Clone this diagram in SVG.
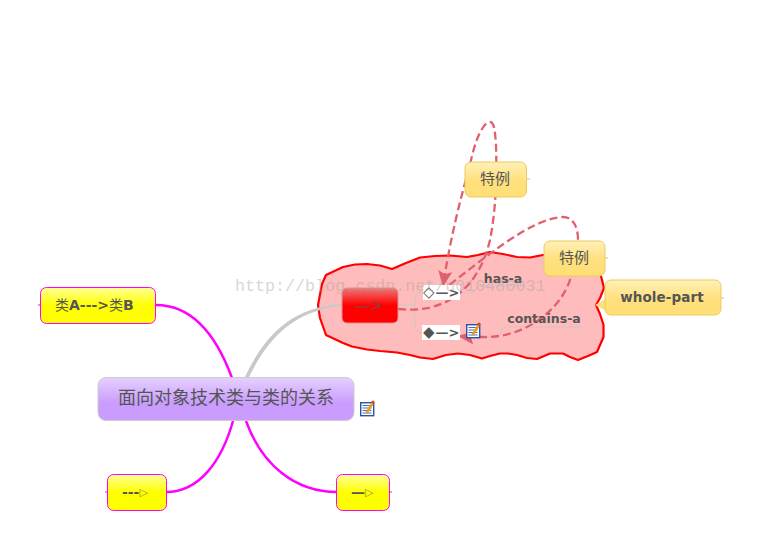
<svg xmlns="http://www.w3.org/2000/svg" width="761" height="548" viewBox="0 0 761 548">
<defs>
<linearGradient id="gY" x1="0" y1="0" x2="0" y2="1"><stop offset="0" stop-color="#ffff99"/><stop offset=".5" stop-color="#ffff00"/><stop offset="1" stop-color="#ffff00"/></linearGradient>
<linearGradient id="gO" x1="0" y1="0" x2="0" y2="1"><stop offset="0" stop-color="#fff0b8"/><stop offset=".55" stop-color="#ffe07c"/><stop offset="1" stop-color="#ffde75"/></linearGradient>
<linearGradient id="gP" x1="0" y1="0" x2="0" y2="1"><stop offset="0" stop-color="#e6d0ff"/><stop offset=".6" stop-color="#c99cfd"/><stop offset="1" stop-color="#c99cfd"/></linearGradient>
<linearGradient id="gR" x1="0" y1="0" x2="0" y2="1"><stop offset="0" stop-color="#ee7878"/><stop offset=".5" stop-color="#ff0000"/><stop offset="1" stop-color="#ff0000"/></linearGradient>
<marker id="ah" markerWidth="18" markerHeight="16" refX="15" refY="7" orient="auto" markerUnits="userSpaceOnUse"><path d="M0 0L16 7L0 14L3 7Z" fill="#e0606c"/></marker>
<g id="note"><rect x="0.700" y="2.700" width="13" height="13" fill="#fff" stroke="#2a52a8" stroke-width="1.400"/><path d="M2.500 5.500h9M2.500 8h9M2.500 10.500h9M2.500 13h9" stroke="#4a6ab5" stroke-width="1"/><path d="M6.500 13L12.500 3.500" stroke="#e8a020" stroke-width="2.600"/><circle cx="13" cy="2" r="1.600" fill="#c8502a"/></g>
</defs>
<style>
text{font-family:"DejaVu Sans","Noto Sans CJK SC",sans-serif;fill:#555}
.b{font-weight:700}
.m{stroke:#ff00ff;fill:none;stroke-width:2.500}
.rel{fill:none;stroke:#e0606c;stroke-width:2.300;stroke-dasharray:8 4}
.t{fill:none;stroke:#cfc4c4;stroke-width:1}
.tick{stroke:#e8c050;stroke-width:1}
.tickm{stroke:#ff00ff;stroke-width:1}
.o{fill:url(#gO);stroke:#eccb60}
.y{fill:url(#gY);stroke:#ff00ff}
.ar{font-size:11px;font-weight:400;fill:#8a8a3a}
</style>
<g id="boundary"><path fill="#ffbcbc" stroke="#ff0000" stroke-width="2.200" stroke-linejoin="round" d="M322 284L326 275L343 267L355 264.500L367 264L380 265.500L392 269L406 263L420 257.500L435 256L450 255.500L467 257L478 255L490 252L503 254L517 257L530 257.500L543 255L560 253L578 255L592 261L600 272L604 288L600 298L596 305L600 314L603.500 325L603.500 337L597 352L588 356L578 360L570 357L563 353.500L550 353.500L537 359L527 358L517 355L508 353.500L500 353.500L490 356L482 358.500L470 355L458 353.500L446 355L433 359L420 357.500L410 355L397 352.500L380 351L367 349.500L352 346.500L343 343L326 335L320 318L318 305Z"/></g>
<g id="connectors">
<path class="m" d="M156 305C195 305 218 340 232 378"/>
<path class="m" d="M166 492C200 492 222 460 233 421"/>
<path class="m" d="M337 492C295 492 262 465 246 421"/>
<path d="M244.500 378C260 345 285 307 342 304L342 306C287 311 264 347 248.500 378Z" fill="#c9c9c9"/>
<path class="t" d="M398 305H415M415 300V325Q415 333 423 333M415 300Q415 292 423 292"/>
<path class="t" d="M458 293H468Q474 293 476 289Q478 286 484 286H525M480 337H496Q500 337 501 332Q502 327 508 327H583"/>
<path class="rel" marker-end="url(#ah)" d="M398 309C445 314 478 290 490 240C496 210 497 175 496 145C495 130 494 122 490 122C483 122 475 140 470 165C460 200 450 240 443 286"/>
<path class="rel" marker-end="url(#ah)" d="M440 292C480 262 530 218 563 217C572 217 578 225 578 240C578 250 575 265 570 280C560 310 525 338 483 337C475 337 468 337 459 336"/>
</g>
<g id="center"><rect x="98" y="377.500" width="256" height="43" rx="8" fill="url(#gP)" stroke="#cccccc"/><text x="226" y="404" font-size="18" text-anchor="middle">面向对象技术类与类的关系</text></g>
<use id="note-center" href="#note" x="360" y="400"/>
<g id="node-ab"><path class="tickm" d="M38 305H41"/><rect class="y" x="40.500" y="287.500" width="115" height="36" rx="6"/><text x="55" y="310" font-size="14" class="b"><tspan font-weight="400">类</tspan>A---&gt;<tspan font-weight="400">类</tspan>B</text></g>
<g id="node-dash"><path class="tickm" d="M105 492H108"/><rect class="y" x="107.500" y="474.500" width="59" height="36" rx="6"/><text x="122" y="497" font-size="14" class="b">---<tspan class="ar" dy="-1">▷</tspan></text></g>
<g id="node-solid"><path class="tickm" d="M389 492H392"/><rect class="y" x="336.500" y="474.500" width="53" height="36" rx="6"/><text x="351" y="497" font-size="14" class="b">—<tspan class="ar" dy="-1">▷</tspan></text></g>
<g id="node-red"><rect x="342" y="288" width="56" height="35" rx="5" fill="url(#gR)" stroke="#e09090" stroke-width="1"/><text x="369" y="311" font-size="15" text-anchor="middle" class="b" style="fill:#a83030">—&gt;</text></g>
<g id="node-hasa"><rect x="423" y="285" width="37" height="15" fill="#fff"/><text x="423" y="297" font-size="15" class="b">◇<tspan font-size="13" dx="1">—&gt;</tspan></text></g>
<g id="node-contains"><rect x="422" y="325" width="38" height="15" fill="#fff"/><text x="423" y="337" font-size="15" class="b">◆<tspan font-size="13" dx="1">—&gt;</tspan></text></g>
<use id="note-contains" href="#note" x="466" y="322"/>
<text x="503" y="283" font-size="12.500" text-anchor="middle" class="b">has-a</text>
<text x="544" y="323" font-size="12.500" text-anchor="middle" class="b">contains-a</text>
<g id="node-sp1"><path class="tick" d="M526 179H530"/><rect class="o" x="465" y="162" width="61.500" height="35" rx="6"/><text x="495" y="184" font-size="15" text-anchor="middle">特例</text></g>
<g id="node-sp2"><path class="tick" d="M605 258H608"/><rect class="o" x="544" y="241" width="61" height="35" rx="6"/><text x="574" y="263" font-size="15" text-anchor="middle">特例</text></g>
<g id="node-whole"><path class="tick" d="M721 298H724"/><path d="M595 305L606 299V311Z" fill="#ffe07c"/><rect class="o" x="605" y="280" width="116" height="35" rx="6"/><text x="662" y="302" font-size="13.500" text-anchor="middle" class="b" letter-spacing=".1">whole-part</text></g>
<text x="235" y="291" font-size="16.700" style="font-family:'Liberation Mono',monospace;fill:#a0a0a0;opacity:.4">http://blog.csdn.net/u010480031</text>
</svg>
